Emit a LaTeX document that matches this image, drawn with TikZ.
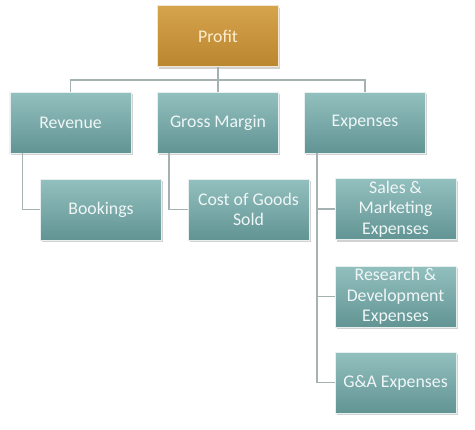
\documentclass[tikz,border=0pt]{standalone}
\usepackage{fontspec}
\setmainfont{Carlito}
\usetikzlibrary{shadows}
\definecolor{tealtop}{RGB}{146,192,190}
\definecolor{tealbot}{RGB}{98,148,148}
\definecolor{orgtop}{RGB}{214,164,76}
\definecolor{orgbot}{RGB}{186,134,48}
\definecolor{linec}{RGB}{165,178,178}
\definecolor{txt}{RGB}{240,246,246}
\tikzset{
  boxbase/.style={rectangle, minimum width=121bp, minimum height=61bp, inner sep=1bp,
    align=center, font=\fontsize{17.8bp}{20.5bp}\selectfont, text=txt,
    drop shadow={shadow xshift=1.5bp, shadow yshift=-2bp, fill=black!35, opacity=0.5},
    draw=white!85!tealbot, line width=0.4bp},
  tealbox/.style={boxbase, top color=tealtop, bottom color=tealbot},
  orgbox/.style={boxbase, top color=orgtop, bottom color=orgbot, text={rgb,255:red,252;green,238;blue,208}, draw=white!80!orgbot},
  conn/.style={draw=linec, line width=1.3bp}
}
\begin{document}
\begin{tikzpicture}[x=1bp,y=-1bp]
\useasboundingbox (0,0) rectangle (475,429);
\coordinate (bus) at (218,80);
\node[orgbox] (profit) at (218,36) {Profit};
\node[tealbox] (rev) at (70.5,122.5) {Revenue};
\node[tealbox] (gm) at (218,122.5) {Gross Margin};
\node[tealbox] (exp) at (365,122.5) {Expenses};
\node[tealbox] (book) at (101,209.5) {Bookings};
\node[tealbox] (cogs) at (248.5,209.5) {Cost of Goods\\Sold};
\node[tealbox] (sm) at (395.5,209) {Sales \&\\Marketing\\Expenses};
\node[tealbox] (rd) at (395.5,296.5) {Research \&\\Development\\Expenses};
\node[tealbox] (ga) at (395.5,382.5) {G\&A Expenses};
\draw[conn] (profit.south) -- (bus);
\draw[conn] (rev.north) |- (bus) -| (exp.north);
\draw[conn] (bus) -- (gm.north);
\draw[conn] ([xshift=-48bp]rev.south) |- (book.west);
\draw[conn] ([xshift=-49bp]gm.south) |- (cogs.west);
\draw[conn] ([xshift=-48bp]exp.south) |- (sm.west);
\draw[conn] ([xshift=-48bp]exp.south) |- (rd.west);
\draw[conn] ([xshift=-48bp]exp.south) |- (ga.west);
\end{tikzpicture}
\end{document}
